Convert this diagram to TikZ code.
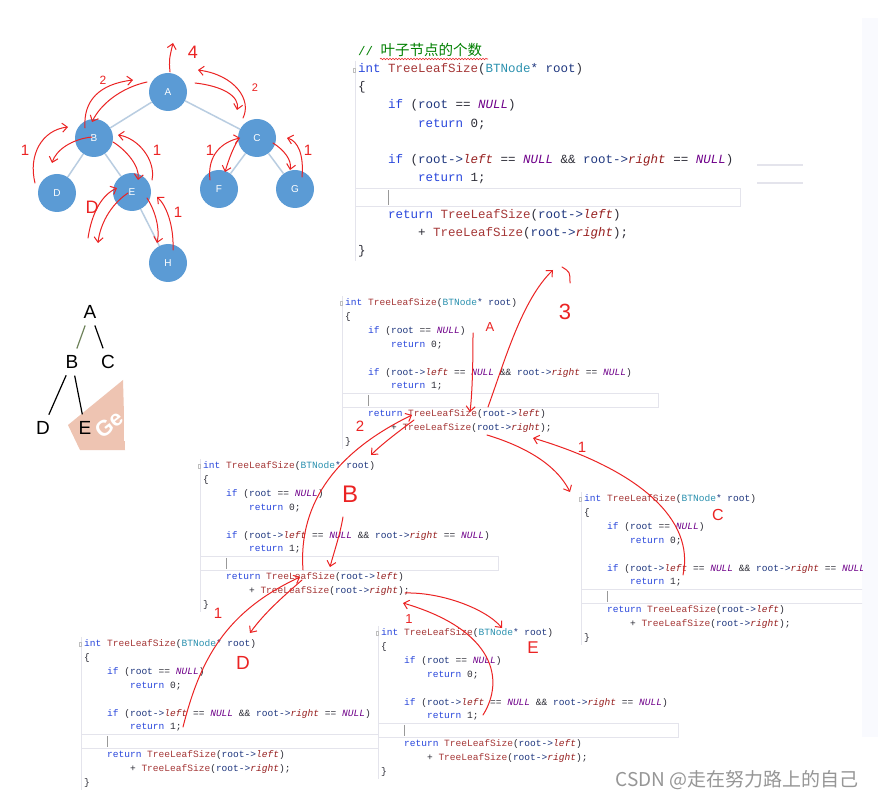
\documentclass[tikz,border=0pt]{standalone}
\usepackage{fontspec}
\setsansfont{Liberation Sans}
\newfontfamily\codefont{Liberation Mono}[WordSpace={1,0,0}]
\newfontfamily\cjkfont{Noto Sans CJK SC}
\usetikzlibrary{arrows.meta,decorations.pathmorphing}

\definecolor{kwblue}{RGB}{40,70,220}
\definecolor{fnred}{RGB}{165,55,55}
\definecolor{tyteal}{RGB}{43,145,175}
\definecolor{idnavy}{RGB}{31,55,127}
\definecolor{nullpurple}{RGB}{111,0,138}
\definecolor{fieldred}{RGB}{150,30,30}
\definecolor{codegray}{RGB}{45,45,55}
\definecolor{cmtgreen}{RGB}{0,128,0}
\definecolor{nodeblue}{RGB}{91,155,213}
\definecolor{edgeblue}{RGB}{185,205,225}
\definecolor{penred}{RGB}{235,35,35}
\definecolor{guttergray}{RGB}{228,228,236}
\definecolor{wmsalmon}{RGB}{238,196,178}
\definecolor{stripgray}{RGB}{249,250,254}
\definecolor{branchgreen}{RGB}{110,130,90}
\definecolor{markgray}{RGB}{150,150,150}

\newcommand{\ckw}[1]{\textcolor{kwblue}{#1}}
\newcommand{\cfn}[1]{\textcolor{fnred}{#1}}
\newcommand{\cty}[1]{\textcolor{tyteal}{#1}}
\newcommand{\cid}[1]{\textcolor{idnavy}{#1}}
\newcommand{\cfld}[1]{\textcolor{fieldred}{\itshape #1}}
\newcommand{\cnull}{\textcolor{nullpurple}{\itshape NULL}}

% one code window: x, y of first line, scale, width of cursor line
\newcommand{\codeblock}[4]{%
  \pgfmathsetmacro{\cbsize}{12.5*#3}%
  \pgfmathsetmacro{\cblh}{18.2*#3}%
  \pgfmathsetmacro{\cbcw}{7.5*#3}%
  \begin{scope}[shift={(#1,#2)},every node/.style={anchor=west,inner sep=0pt,text=codegray,
      text height=0.72em,text depth=0.22em,font={\fontsize{\cbsize}{\cbsize}\codefont}}]
    \draw[guttergray] (-3,-0.5*\cblh) -- (-3,10.5*\cblh);
    \draw[gray!50] (-4.5,-2) rectangle (-2.5,2);
    \draw[guttergray,line width=1pt] (-3,6.5*\cblh) rectangle (#4,7.5*\cblh);
    \draw[gray!80] (4*\cbcw,6.6*\cblh) -- (4*\cbcw,7.4*\cblh);
    \node (l0) at (0,0) {\ckw{int} \cfn{TreeLeafSize}(\cty{BTNode}\cid{*} \cid{root})};
    \node (l1) at (0,\cblh) {\{};
    \node (l2) at (4*\cbcw,2*\cblh) {\ckw{if} (\cid{root} == \cnull)};
    \node (l3) at (8*\cbcw,3*\cblh) {\ckw{return} 0;};
    \node (l5) at (4*\cbcw,5*\cblh) {\ckw{if} (\cid{root->}\cfld{left} == \cnull{} \&\& \cid{root->}\cfld{right} == \cnull)};
    \node (l6) at (8*\cbcw,6*\cblh) {\ckw{return} 1;};
    \node (l8) at (4*\cbcw,8*\cblh) {\ckw{return} \cfn{TreeLeafSize}(\cid{root->}\cfld{left})};
    \node (l9) at (8*\cbcw,9*\cblh) {+ \cfn{TreeLeafSize}(\cid{root->}\cfld{right});};
    \node (l10) at (0,10*\cblh) {\}};
  \end{scope}}

\begin{document}
\begin{tikzpicture}[x=1pt,y=-1pt,>={Straight Barb[length=5pt,width=9pt]},
  leaf/.style={circle,fill=nodeblue,minimum size=38pt,inner sep=0pt,text=white,
    font=\sffamily\fontsize{10}{10}\selectfont},
  treeedge/.style={edgeblue,line width=1.5pt},
  letter/.style={inner sep=2pt,font=\sffamily\fontsize{19}{19}\selectfont},
  stick/.style={line width=1.2pt,shorten >=5pt,shorten <=5pt},
  pen/.style={penred,line width=1pt,line cap=round,line join=round},
  note/.style={inner sep=0pt,text=penred,font=\sffamily\fontsize{15}{15}\selectfont}]
\useasboundingbox (0,0) rectangle (878,799);
\fill[white] (0,0) rectangle (878,799);
\fill[stripgray] (862,18) rectangle (878,737);

% binary tree
\node[leaf] (A) at (168,92) {A};
\node[leaf] (B) at (94,138) {B};
\node[leaf] (C) at (257,138) {C};
\node[leaf] (D) at (57,193) {D};
\node[leaf] (E) at (132,192) {E};
\node[leaf] (F) at (219,189) {F};
\node[leaf] (G) at (295,189) {G};
\node[leaf] (H) at (168,263) {H};
\draw[treeedge] (A) -- (B);
\draw[treeedge] (A) -- (C);
\draw[treeedge] (B) -- (D);
\draw[treeedge] (B) -- (E);
\draw[treeedge] (C) -- (F);
\draw[treeedge] (C) -- (G);
\draw[treeedge] (E) -- (H);

% small tree with watermark
\begin{scope}
  \clip (68,425) -- (123,380) -- (125,450) -- (80,450) -- cycle;
  \fill[wmsalmon] (68,425) -- (123,380) -- (125,450) -- (80,450) -- cycle;
  \node[rotate=38,text=white,font=\sffamily\bfseries\fontsize{22}{22}\selectfont] (wmge) at (109,424) {Ge};
\end{scope}
\node[letter] (sA) at (90,312) {A};
\node[letter] (sB) at (72,362) {B};
\node[letter] (sC) at (108,362) {C};
\node[letter] (sD) at (43,428) {D};
\node[letter] (sE) at (85,428) {E};
\draw[stick,branchgreen] (sA) -- (sB);
\draw[stick] (sA) -- (sC);
\draw[stick] (sB) -- (sD);
\draw[stick] (sB) -- (sE);

% code windows
\node[anchor=west,inner sep=0pt,text=cmtgreen] (cmt) at (358,50)
  {{\fontsize{12.5}{12.5}\codefont //\ }\fontsize{14.5}{14.5}\cjkfont 叶子节点的个数};
\draw[penred,line width=0.6pt,decorate,decoration={snake,amplitude=0.7pt,segment length=3pt}] (380,59) -- (488,59);
\codeblock{358}{70}{1}{382}
\draw[guttergray,line width=1.5pt] (757,165) -- (803,165);
\draw[guttergray,line width=1.5pt] (757,183) -- (803,183);
\codeblock{345}{303}{0.764}{313}
\codeblock{203}{466}{0.764}{295}
\begin{scope}
  \clip (0,0) rectangle (862,799);
  \codeblock{584}{499}{0.764}{300}
\end{scope}
\codeblock{84}{644}{0.764}{294}
\codeblock{381}{633}{0.764}{297}

% red pen on the tree
\draw[pen,->] (170,72) .. controls (169,60) .. (173,43);
\node[note,font=\sffamily\fontsize{18}{18}\selectfont] (t4) at (193,52) {4};
\draw[pen,->] (85,128) .. controls (83,100) and (100,84) .. (133,80);
\draw[pen,->] (147,82) .. controls (120,88) and (100,105) .. (92,122);
\node[note,font=\sffamily\fontsize{12}{12}\selectfont] (t2a) at (103,80) {2};
\draw[pen,->] (195,83) .. controls (222,86) and (240,96) .. (237,110);
\draw[pen,->] (243,118) .. controls (252,100) and (235,75) .. (198,70);
\node[note,font=\sffamily\fontsize{11}{11}\selectfont] (t2b) at (255,88) {2};
\draw[pen,->] (92,137) .. controls (72,139) and (56,150) .. (52,163);
\draw[pen,->] (35,183) .. controls (28,155) and (42,130) .. (68,127);
\node[note] (t1a) at (25,150) {1};
\draw[pen,->] (113,142) .. controls (126,150) and (140,166) .. (138,180);
\draw[pen,->] (152,180) .. controls (156,160) and (138,138) .. (118,135);
\node[note] (t1b) at (157,150) {1};
\draw[pen,->] (88,238) .. controls (92,212) and (102,195) .. (117,188);
\draw[pen,->] (128,193) .. controls (110,205) and (100,225) .. (98,243);
\node[note,font=\sffamily\fontsize{18}{18}\selectfont] (t0) at (92,207) {D};
\draw[pen,->] (147,198) .. controls (156,212) and (160,230) .. (157,243);
\draw[pen,->] (173,250) .. controls (174,225) and (166,205) .. (157,197);
\node[note] (t1c) at (178,212) {1};
\draw[pen,->] (238,140) .. controls (232,150) and (228,162) .. (225,172);
\draw[pen,->] (210,180) .. controls (207,155) and (222,142) .. (240,138);
\node[note] (t1d) at (210,150) {1};
\draw[pen,->] (273,143) .. controls (284,150) and (292,160) .. (290,170);
\draw[pen,->] (302,177) .. controls (304,155) and (298,141) .. (287,138);
\node[note] (t1e) at (308,150) {1};

% red pen on the calls
\draw[pen,->] (473,333) .. controls (473,370) and (472,395) .. (470,412);
\node[note,font=\sffamily\fontsize{13}{13}\selectfont] (cA) at (490,327) {A};
\draw[pen,->] (488,407) .. controls (505,360) and (522,300) .. (553,270);
\draw[pen] (562,267) .. controls (570,272) .. (570,283);
\node[note,font=\sffamily\fontsize{22}{22}\selectfont] (c3) at (565,312) {3};
\node[note] (c2) at (360,426) {2};
\draw[pen,->] (303,570) .. controls (298,500) and (340,450) .. (412,415);
\draw[pen,->] (414,420) .. controls (398,432) and (382,444) .. (371,455);
\node[note,font=\sffamily\fontsize{24}{24}\selectfont] (cB) at (350,494) {B};
\draw[pen,->] (343,517) .. controls (340,535) and (334,552) .. (330,567);
\draw[pen,->] (302,580) .. controls (285,595) and (265,612) .. (250,633);
\draw[pen,->] (183,727) .. controls (200,660) and (225,612) .. (300,577);
\node[note] (cD1) at (218,613) {1};
\node[note,font=\sffamily\fontsize{19}{19}\selectfont] (cD) at (243,663) {D};
\draw[pen,->] (405,593) .. controls (440,592) and (485,608) .. (502,628);
\draw[pen,->] (483,715) .. controls (505,680) and (495,630) .. (403,603);
\node[note,font=\sffamily\fontsize{13}{13}\selectfont] (cE1) at (409,619) {1};
\node[note,font=\sffamily\fontsize{17}{17}\selectfont] (cE) at (533,648) {E};
\draw[pen,->] (487,435) .. controls (520,445) and (555,462) .. (570,492);
\draw[pen,->] (683,575) .. controls (695,520) and (640,470) .. (533,438);
\node[note] (cC1) at (582,447) {1};
\node[note,font=\sffamily\fontsize{16}{16}\selectfont] (cC) at (718,515) {C};

\node[text=markgray,font=\cjkfont\fontsize{19}{19}\selectfont] (csdn) at (737,780) {CSDN @走在努力路上的自己};
\end{tikzpicture}
\end{document}
